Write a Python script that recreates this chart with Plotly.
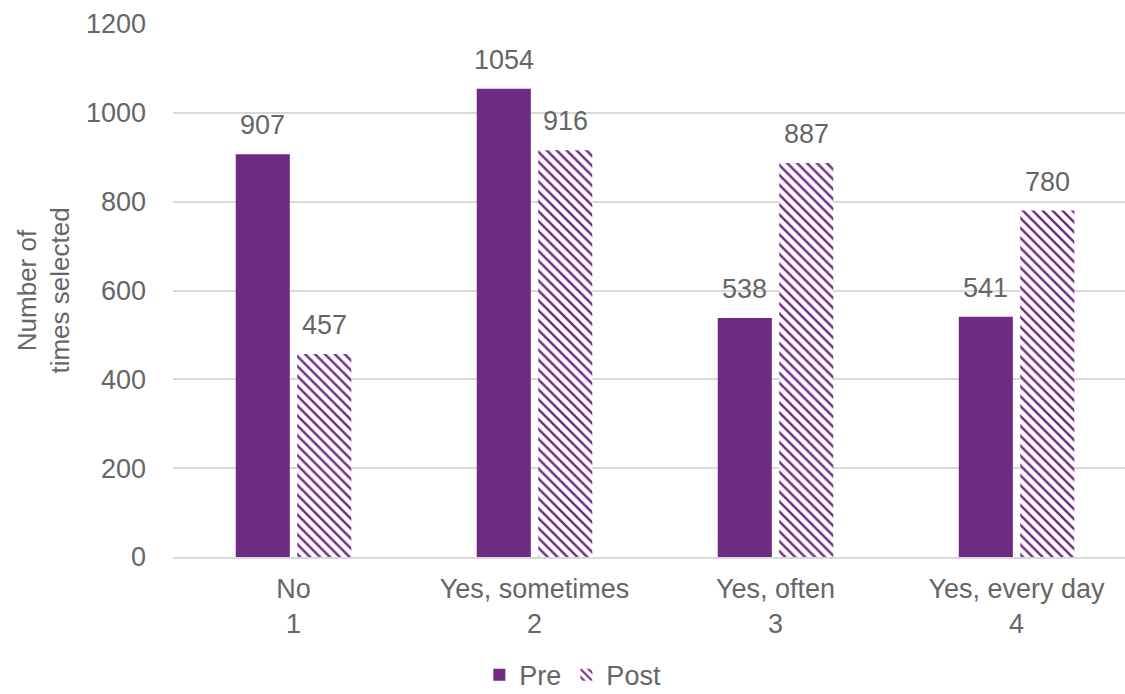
import plotly.graph_objects as go

categories = ["No<br>1", "Yes, sometimes<br>2", "Yes, often<br>3", "Yes, every day<br>4"]
pre = [907, 1054, 538, 541]
post = [457, 916, 887, 780]

purple = "#6F2A82"
grey = "#666666"
font_family = "Liberation Sans"
fs = 27

fig = go.Figure()
fig.add_trace(go.Bar(
    x=categories, y=pre, name="Pre",
    marker=dict(color=purple, line=dict(width=0)),
))
fig.add_trace(go.Bar(
    x=categories, y=post, name="Post",
    marker=dict(color="white", line=dict(width=0),
                pattern=dict(shape="\\", fgcolor=purple, bgcolor="white",
                             fgopacity=1, size=7, solidity=0.35)),
))

# value labels above bars
for series, dx in ((pre, -31), (post, 31)):
    for c, v in zip(categories, series):
        fig.add_annotation(x=c, y=v, text=str(v), showarrow=False,
                           xshift=dx, yshift=12, yanchor="bottom",
                           font=dict(size=fs, color=grey, family=font_family))

fig.update_layout(
    width=1125, height=694,
    margin=dict(l=173, r=0, t=24, b=137, autoexpand=False),
    paper_bgcolor="white", plot_bgcolor="white",
    barmode="group", bargap=0.49, bargroupgap=0.12,
    font=dict(family=font_family, size=fs, color=grey),
    showlegend=True,
    legend=dict(orientation="h", x=0.42, xanchor="center", y=-0.176, yref="paper",
                yanchor="top", font=dict(size=fs, color=grey, family=font_family),
                tracegroupgap=0, itemwidth=30),
    xaxis=dict(range=[-0.5, 3.45], showgrid=False, ticks="", showline=True,
               linecolor="#D9D9D9", linewidth=1.5, automargin=False,
               ticklabelstandoff=7,
               tickfont=dict(size=fs, color=grey, family=font_family)),
    yaxis=dict(range=[0, 1200], dtick=200, showgrid=True, gridcolor="#D9D9D9",
               gridwidth=1.5, zeroline=False, ticks="", automargin=False,
               ticklabelstandoff=26,
               tickfont=dict(size=fs, color=grey, family=font_family),
               title=dict(text="Number of<br>times selected", standoff=8,
                          font=dict(size=26, color=grey, family=font_family))),
)

fig.write_html("out.html")
